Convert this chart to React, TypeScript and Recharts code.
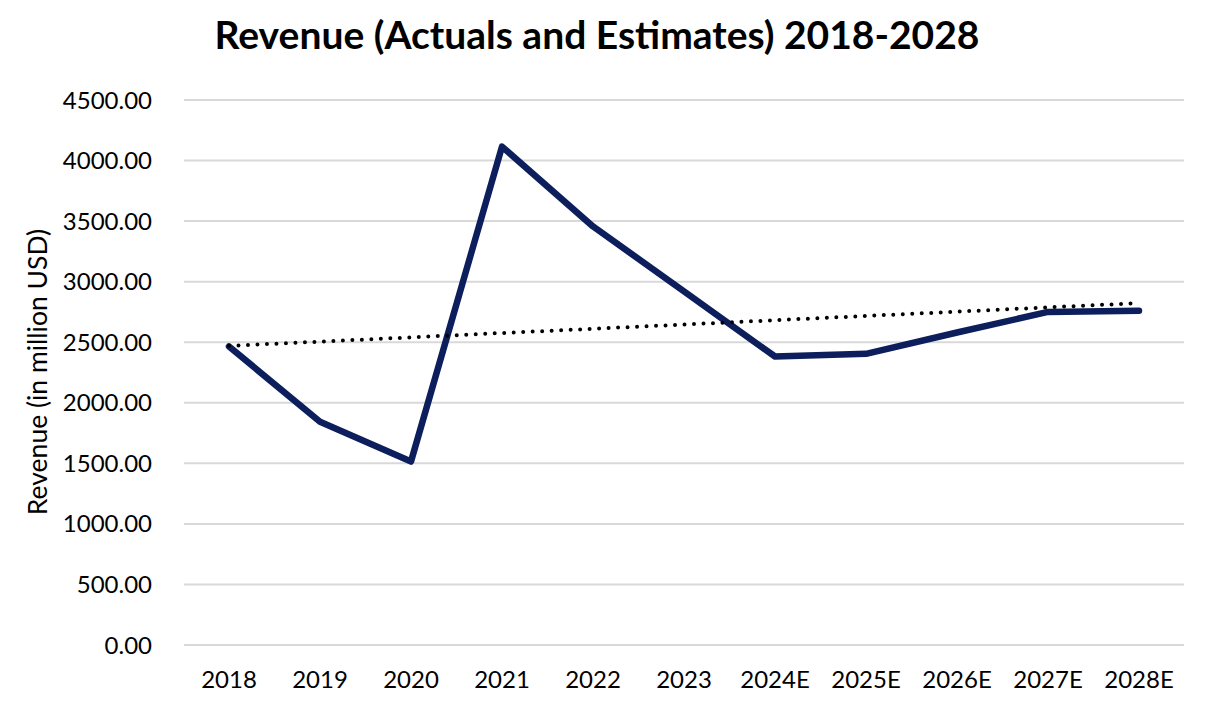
import { LineChart, Line, XAxis, YAxis, CartesianGrid } from 'recharts';

const years = ['2018', '2019', '2020', '2021', '2022', '2023', '2024E', '2025E', '2026E', '2027E', '2028E'];
const revenue = [2465, 1843, 1515, 4115, 3456, 2920, 2382, 2404, 2580, 2750, 2760];
const trend = [2470, 2505, 2540, 2576, 2611, 2646, 2682, 2717, 2752, 2788, 2823];
const yTicks = [0, 500, 1000, 1500, 2000, 2500, 3000, 3500, 4000, 4500];

const data = years.map((year, i) => ({ year, revenue: revenue[i], trend: trend[i] }));

const font = 'Lato, "Open Sans", sans-serif';

export default function App() {
  return (
    <div style={{ position: 'absolute', left: 0, top: 0, width: 1206, height: 708, background: '#fff', fontFamily: font }}>
      <div
        style={{
          position: 'absolute',
          left: 0,
          top: 11,
          width: 1194,
          textAlign: 'center',
          fontSize: 39,
          fontWeight: 700,
          color: '#000',
        }}
      >
        Revenue (Actuals and Estimates) 2018-2028
      </div>
      <div
        style={{
          position: 'absolute',
          left: 37,
          top: 372,
          transform: 'translate(-50%, -50%) rotate(-90deg)',
          whiteSpace: 'nowrap',
          fontSize: 26.5,
          color: '#000',
        }}
      >
        Revenue (in million USD)
      </div>
      <LineChart width={1206} height={708} data={data} margin={{ top: 100, right: 22, bottom: 0, left: 0 }}>
        <CartesianGrid vertical={false} stroke="#d9d9d9" strokeWidth={2} />
        <XAxis
          dataKey="year"
          axisLine={false}
          tickLine={false}
          tickSize={0}
          tickMargin={26}
          padding={{ left: 45, right: 45 }}
          height={63}
          interval={0}
          tick={{ fill: '#000', fontSize: 24, fontFamily: font }}
        />
        <YAxis
          width={184}
          domain={[0, 4500]}
          ticks={yTicks}
          axisLine={false}
          tickLine={false}
          tickSize={0}
          tickMargin={32}
          tickFormatter={(v: number) => v.toFixed(2)}
          tick={{ fill: '#000', fontSize: 24, fontFamily: font }}
        />
        <Line
          dataKey="revenue"
          type="linear"
          stroke="#0c1f5c"
          strokeWidth={6.5}
          strokeLinecap="round"
          strokeLinejoin="round"
          dot={false}
          activeDot={false}
          isAnimationActive={false}
        />
        <Line
          dataKey="trend"
          type="linear"
          stroke="#000"
          strokeWidth={4}
          strokeDasharray="0 9.5"
          strokeLinecap="round"
          dot={false}
          activeDot={false}
          isAnimationActive={false}
        />
      </LineChart>
    </div>
  );
}
